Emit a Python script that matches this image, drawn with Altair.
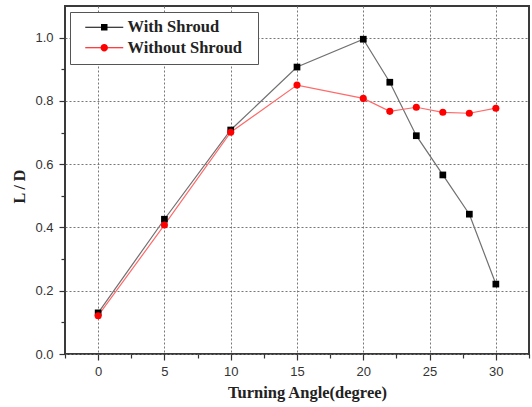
import altair as alt
import pandas as pd

# Lift-to-drag ratio against turning angle, with and without the shroud
angles = [0, 5, 10, 15, 20, 22, 24, 26, 28, 30]
with_shroud = [0.130, 0.426, 0.708, 0.907, 0.995, 0.859, 0.690, 0.566, 0.442, 0.221]
without_shroud = [0.121, 0.408, 0.701, 0.850, 0.808, 0.767, 0.780, 0.764, 0.761, 0.777]
series_names = ["With Shroud", "Without Shroud"]

# tick positions (major + minor)
x_ticks = [-2.5, 0, 2.5, 5, 7.5, 10, 12.5, 15, 17.5, 20, 22.5, 25, 27.5, 30, 32.5]
y_ticks = [0.0, 0.1, 0.2, 0.3, 0.4, 0.5, 0.6, 0.7, 0.8, 0.9, 1.0]

rows = []
for name, vals in zip(series_names, [with_shroud, without_shroud]):
    for a, v in zip(angles, vals):
        rows.append({"angle": a, "ld": v, "series": name})
df = pd.DataFrame(rows)

serif = "Liberation Serif"
sans = "Liberation Sans"

x_major = "datum.value % 5 == 0"
y_major = "round(datum.value * 10) % 2 == 0"

x_axis = alt.Axis(
    values=x_ticks,
    labelExpr=f"{x_major} ? format(datum.value, 'd') : ''",
    labelFont=sans, labelFontSize=13, labelColor="#333", labelPadding=5,
    tickSize={"condition": {"test": x_major, "value": 6}, "value": 4},
    tickColor="#333", tickWidth=1.2,
    grid=True,
    gridOpacity={"condition": {"test": x_major, "value": 1}, "value": 0},
    gridColor="#777", gridDash=[2, 2], gridWidth=1,
    domain=False,
    title="Turning Angle(degree)",
    titleFont=serif, titleFontWeight="bold", titleFontSize=16.5, titleColor="#222",
    titleX=242, titleY=30,
)
y_axis = alt.Axis(
    values=y_ticks,
    labelExpr=f"{y_major} ? format(datum.value, '.1f') : ''",
    labelFont=sans, labelFontSize=13, labelColor="#333", labelPadding=6,
    tickSize={"condition": {"test": y_major, "value": 6}, "value": 4},
    tickColor="#333", tickWidth=1.2,
    grid=True,
    gridOpacity={"condition": {"test": y_major, "value": 1}, "value": 0},
    gridColor="#777", gridDash=[2, 2], gridWidth=1,
    domain=False,
    title="L / D",
    titleFont=serif, titleFontWeight="bold", titleFontSize=16, titleColor="#222",
    titleX=-45.5, titleY=180, titleBaseline="middle",
)

base = alt.Chart(df).encode(
    x=alt.X("angle:Q", scale=alt.Scale(domain=[-2.5, 32.5], nice=False, zero=False), axis=x_axis),
    y=alt.Y("ld:Q", scale=alt.Scale(domain=[0, 1.1], nice=False), axis=y_axis),
)

is_with = alt.datum.series == series_names[0]
is_without = alt.datum.series == series_names[1]

line_with = base.transform_filter(is_with).mark_line(strokeWidth=1.2, color="#707070")
line_without = base.transform_filter(is_without).mark_line(strokeWidth=1.2, color="#ff6a6a")
squares = base.transform_filter(is_with).mark_square(size=45, color="black", opacity=1)
circles = base.transform_filter(is_without).mark_circle(size=50, color="red", opacity=1)

# legend symbols: short line with the series marker in the middle
# (unit = half the nominal symbol width, i.e. 8 px for symbolSize 256);
# the trailing zero-area subpath only widens the legend frame on the right
spacer = " M20.6,0L20.6,0Z"
sq_path = ("M0,-0.0625L4.75,-0.0625L4.75,0.0625L0,0.0625Z "
           "M1.969,-0.406L2.781,-0.406L2.781,0.406L1.969,0.406Z" + spacer)
ci_path = ("M0,-0.0625L4.75,-0.0625L4.75,0.0625L0,0.0625Z "
           "M2.8375,0A0.4625,0.4625 0 1,1 1.9125,0A0.4625,0.4625 0 1,1 2.8375,0Z" + spacer)

legend = alt.Legend(
    title=None, orient="none", legendX=5, legendY=6,
    strokeColor="#555", fillColor="white", padding=7, rowPadding=3.5,
    symbolSize=256, symbolStrokeWidth=0, symbolOpacity=1, labelOffset=34,
    labelFont=serif, labelFontWeight="bold", labelFontSize=16.5, labelColor="#222",
)
# legend-only layer: no rows survive the filter, the scales carry the entries
legend_layer = base.transform_filter("false").mark_point(filled=True, opacity=1).encode(
    color=alt.Color("series:N",
                    scale=alt.Scale(domain=series_names, range=["#000000", "#ff0000"]),
                    legend=legend),
    shape=alt.Shape("series:N",
                    scale=alt.Scale(domain=series_names, range=[sq_path, ci_path]),
                    legend=legend),
)

chart = (
    alt.layer(line_with, line_without, squares, circles, legend_layer)
    .properties(
        width=464, height=348,
        autosize=alt.AutoSizeParams(type="none"),
        padding={"left": 65, "top": 6, "right": 3, "bottom": 53},
        background="white",
    )
    .configure_view(stroke="#3a3a3a", strokeWidth=2)
)

chart.save("out.html", embed_options={"renderer": "svg", "actions": False})
